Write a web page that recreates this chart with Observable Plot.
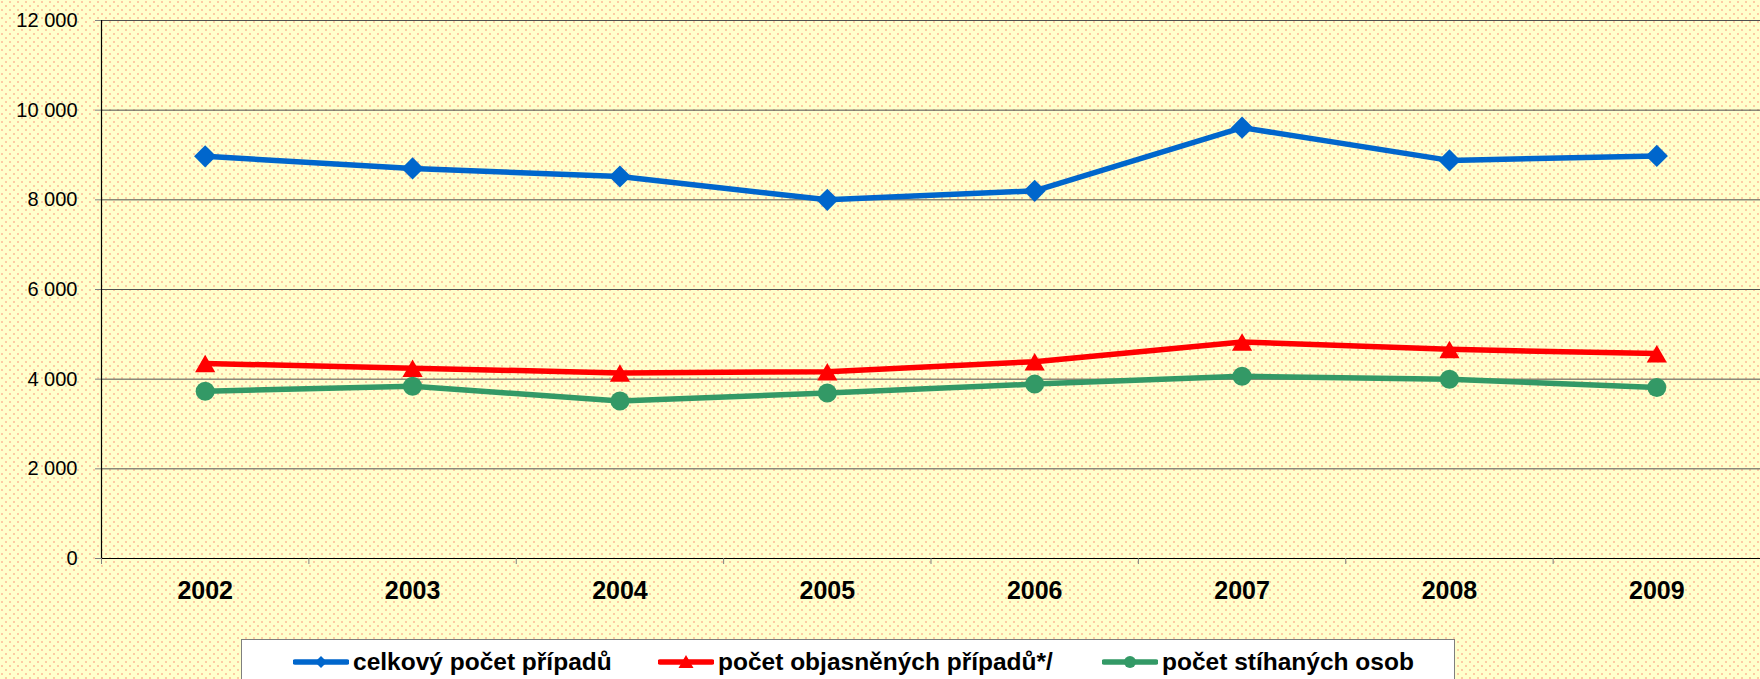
<!DOCTYPE html>
<html>
<head>
<meta charset="utf-8">
<script src="https://cdn.jsdelivr.net/npm/d3@7"></script>
<script src="https://cdn.jsdelivr.net/npm/@observablehq/plot@0.6"></script>
<style>
  html, body { margin: 0; padding: 0; width: 1760px; height: 679px; overflow: hidden; }
  body {
    font-family: "Liberation Sans", Arial, sans-serif;
    background-color: #FFFFCC;
    background-image:
      radial-gradient(circle at 2px 2px, #FCCBA3 0.9px, rgba(255,255,204,0) 1.5px),
      radial-gradient(circle at 6px 6px, #FCCBA3 0.9px, rgba(255,255,204,0) 1.5px);
    background-size: 8px 8px;
    position: relative;
  }
  #chart { position: absolute; left: 0; top: 0; }
  #legend {
    position: absolute; left: 241px; top: 639px; width: 1214px; height: 60px;
    box-sizing: border-box; background: #fff; border: 1px solid #7f7f7f;
  }
  .item { position: absolute; top: 8px; display: flex; align-items: center; height: 28px;
    font-weight: bold; font-size: 24.5px; color: #000; white-space: nowrap; }
  .item svg { display: block; margin-right: 4px; }
</style>
</head>
<body>
<div id="chart"></div>
<div id="legend"></div>
<script>
const years = [2002, 2003, 2004, 2005, 2006, 2007, 2008, 2009];
const celkovy = [8970, 8700, 8520, 8000, 8200, 9610, 8880, 8980];
const objasnenych = [4350, 4245, 4140, 4165, 4390, 4830, 4665, 4570];
const stihanych = [3730, 3840, 3515, 3690, 3890, 4065, 4000, 3815];
const seriesNames = ["celkový počet případů", "počet objasněných případů*/", "počet stíhaných osob"];
const yTicks = [0, 2000, 4000, 6000, 8000, 10000, 12000];

const colors = ["#0066CC", "#FF0000", "#339966"];
const symbols = ["diamond2", "triangle", "circle"];
const radii = [10, 7.5, 9.5];
const dys = [0, 3, 0];
const seriesValues = [celkovy, objasnenych, stihanych];

const boundaries = [...years.map(y => y - 0.5), years[years.length - 1] + 0.5];
const fmt = d => d3.format(",")(d).replace(/,/g, " ");

const marks = [
  Plot.gridY(yTicks.filter(d => d > 0), {stroke: "#505050", strokeOpacity: 1, strokeWidth: 1}),
  Plot.ruleY([0], {stroke: "#000", strokeWidth: 1.2}),
  Plot.ruleX([boundaries[0]], {y1: 0, y2: 12000, stroke: "#000", strokeWidth: 1.2}),
  Plot.axisY(yTicks, {label: null, tickSize: 6, tickPadding: 18, fontSize: 20, tickFormat: fmt, stroke: "#808080", fill: "#000"}),
  Plot.axisX(boundaries, {label: null, tickSize: 6, tickFormat: () => "", stroke: "#808080"}),
  Plot.text(years, {x: d => d, frameAnchor: "bottom", dy: 40, text: d => String(d), fontSize: 25, fontWeight: "bold", fill: "#000"})
];

seriesValues.forEach((vals, i) => {
  const data = years.map((y, j) => ({year: y, value: vals[j]}));
  marks.push(Plot.line(data, {x: "year", y: "value", stroke: colors[i], strokeWidth: 5.5, strokeLinejoin: "round"}));
});
seriesValues.forEach((vals, i) => {
  const data = years.map((y, j) => ({year: y, value: vals[j]}));
  marks.push(Plot.dot(data, {x: "year", y: "value", symbol: symbols[i], r: radii[i], dy: dys[i], fill: colors[i], stroke: "none"}));
});

const plot = Plot.plot({
  width: 1760,
  height: 636,
  marginLeft: 101,
  marginRight: 0,
  marginTop: 20,
  marginBottom: 78,
  style: {background: "transparent", color: "#000", fontFamily: "'Liberation Sans', Arial, sans-serif"},
  x: {domain: [boundaries[0], boundaries[boundaries.length - 1]], axis: null},
  y: {domain: [0, 12000], axis: null},
  marks
});
document.getElementById("chart").appendChild(plot);

// Legend
const legend = document.getElementById("legend");
const lefts = [51, 416, 860];
const swatchMarker = [
  '<path d="M28 4 L34 10 L28 16 L22 10 Z" fill="#0066CC"/>',
  '<path d="M28 3 L35.5 16 L20.5 16 Z" fill="#FF0000"/>',
  '<circle cx="28" cy="10" r="6" fill="#339966"/>'
];
seriesNames.forEach((name, i) => {
  const div = document.createElement("div");
  div.className = "item";
  div.style.left = lefts[i] + "px";
  div.innerHTML = `<svg width="56" height="20"><line x1="2" y1="10" x2="54" y2="10" stroke="${colors[i]}" stroke-width="5.5" stroke-linecap="round"/>${swatchMarker[i]}</svg><span>${name}</span>`;
  legend.appendChild(div);
});
</script>
</body>
</html>
